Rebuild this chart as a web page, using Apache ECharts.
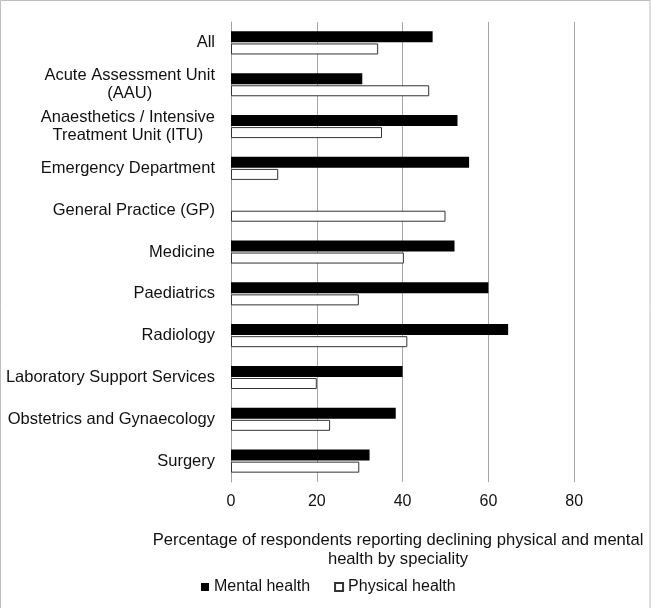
<!DOCTYPE html>
<html>
<head>
<meta charset="utf-8">
<script src="https://cdn.jsdelivr.net/npm/echarts@6/dist/echarts.min.js"></script>
<style>
html,body{margin:0;padding:0;background:#fff;}
#chart{width:651px;height:608px;}
</style>
</head>
<body>
<div id="chart"></div>
<script>
const categories = [
  'All',
  'Acute Assessment Unit\n(AAU)',
  'Anaesthetics / Intensive\nTreatment Unit (ITU)',
  'Emergency Department',
  'General Practice (GP)',
  'Medicine',
  'Paediatrics',
  'Radiology',
  'Laboratory Support Services',
  'Obstetrics and Gynaecology',
  'Surgery'
];
const mentalHealth   = [47.0, 30.6, 52.8, 55.5, 0, 52.1, 60.0, 64.6, 40.0, 38.4, 32.3];
const physicalHealth = [34.3, 46.2, 35.2, 11.0, 50.0, 40.3, 29.8, 41.1, 20.0, 23.1, 29.9];
const xTicks = [0, 20, 40, 60, 80, 100];
const axisTitle = 'Percentage of respondents reporting declining physical and mental\nhealth by speciality';

const FONT = '"Liberation Sans", Arial, sans-serif';
const chart = echarts.init(document.getElementById('chart'), null, {renderer: 'canvas'});
chart.setOption({
  animation: false,
  backgroundColor: '#fff',
  textStyle: {fontFamily: FONT},
  grid: {left: 231, top: 22, width: 429, height: 460, containLabel: false, outerBoundsMode: 'none'},
  xAxis: {
    type: 'value',
    min: xTicks[0],
    max: xTicks[xTicks.length - 1],
    interval: 20,
    axisLine: {show: false},
    axisTick: {show: false},
    splitLine: {show: true, lineStyle: {color: '#a6a6a6', width: 1}},
    axisLabel: {fontSize: 16, color: '#111', margin: 12, fontFamily: FONT, hideOverlap: false, showMaxLabel: false}
  },
  yAxis: {
    type: 'category',
    data: categories,
    inverse: true,
    axisLine: {show: true, lineStyle: {color: '#a0a0a0', width: 1}},
    axisTick: {show: false},
    axisLabel: {
      fontSize: 16.5, color: '#111', margin: 16, fontFamily: FONT, lineHeight: 18,
      formatter: function (v) {
        if (v.indexOf('\n') < 0) return v;
        return v.split('\n').map(function (l) { return '{c|' + l + '}'; }).join('\n');
      },
      rich: {c: {align: 'center', fontSize: 16.5, lineHeight: 18, color: '#111', fontFamily: FONT}}
    }
  },
  legend: {
    left: 201, top: 579, padding: 0,
    itemWidth: 8, itemHeight: 8, itemGap: 24, icon: 'rect',
    textStyle: {fontSize: 16, color: '#111', fontFamily: FONT},
    data: ['Mental health', 'Physical health']
  },
  graphic: [
    {type: 'text', x: 398, y: 531, style: {text: axisTitle, textAlign: 'center', textVerticalAlign: 'top', fontSize: 16.6, lineHeight: 19, fontFamily: FONT, fill: '#111'}},
    {type: 'rect', shape: {x: 0.5, y: 0.5, width: 649.5, height: 620}, style: {fill: 'none', stroke: '#bdbdbd', lineWidth: 1}, silent: true}
  ],
  series: [
    {name: 'Mental health', type: 'bar', data: mentalHealth, barWidth: 11, barGap: '10%',
     itemStyle: {color: '#000'}},
    {name: 'Physical health', type: 'bar', data: physicalHealth, barWidth: 11, barGap: '10%',
     itemStyle: {color: '#fff', borderColor: '#333', borderWidth: 1}}
  ]
});
</script>
</body>
</html>
